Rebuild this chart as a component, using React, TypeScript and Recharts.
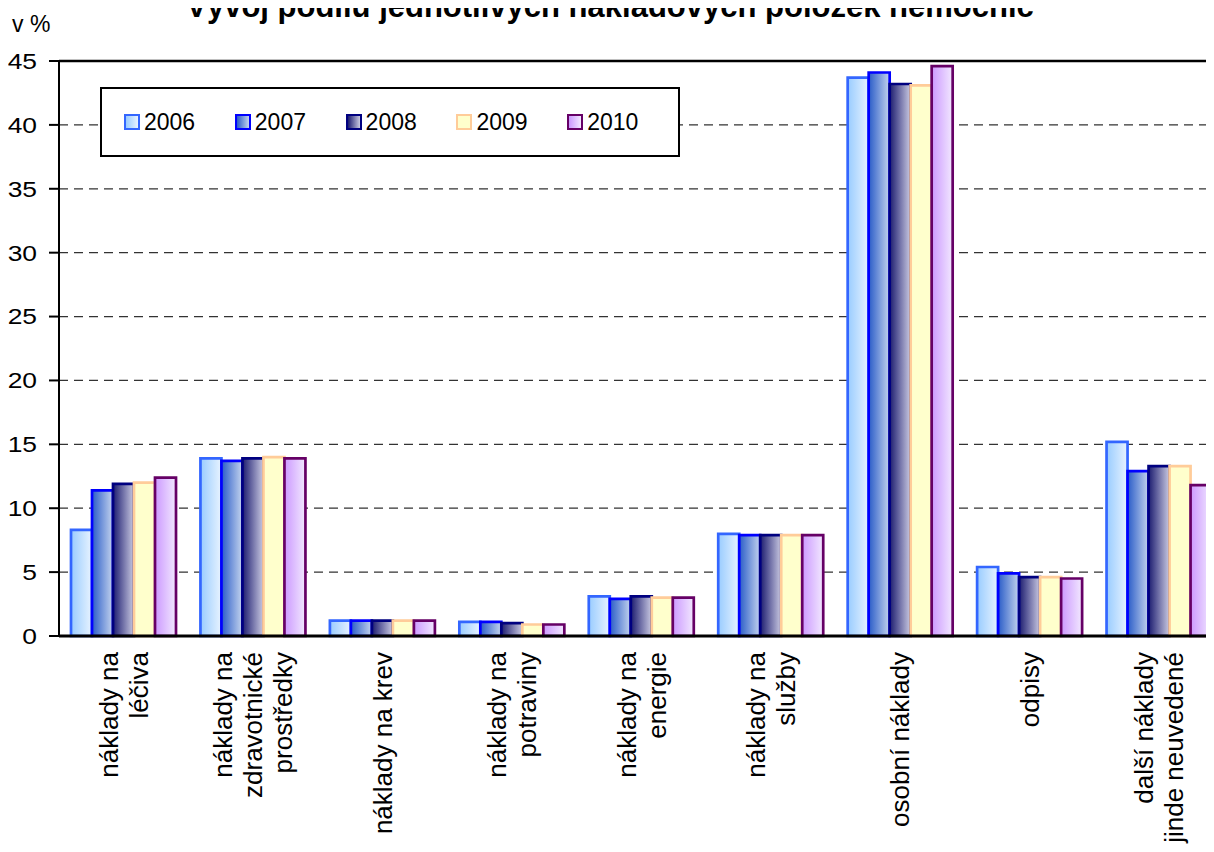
import React from 'react';
import { BarChart, Bar, XAxis, YAxis, CartesianGrid, ReferenceLine } from 'recharts';

const categories = [
  'náklady na\nléčiva',
  'náklady na\nzdravotnické\nprostředky',
  'náklady na krev',
  'náklady na\npotraviny',
  'náklady na\nenergie',
  'náklady na\nslužby',
  'osobní náklady',
  'odpisy',
  'další náklady\njinde neuvedené',
];
const years = ['2006', '2007', '2008', '2009', '2010'];
const s2006 = [8.3, 13.9, 1.2, 1.1, 3.1, 8.0, 43.7, 5.4, 15.2];
const s2007 = [11.4, 13.7, 1.2, 1.1, 2.9, 7.9, 44.1, 4.9, 12.9];
const s2008 = [11.9, 13.9, 1.2, 1.0, 3.1, 7.9, 43.2, 4.6, 13.3];
const s2009 = [12.0, 14.0, 1.2, 0.9, 3.0, 7.9, 43.1, 4.6, 13.3];
const s2010 = [12.4, 13.9, 1.2, 0.9, 3.0, 7.9, 44.6, 4.5, 11.8];
const yTicks = [0, 5, 10, 15, 20, 25, 30, 35, 40, 45];

const seriesValues = [s2006, s2007, s2008, s2009, s2010];
const data = categories.map((c, i) => {
  const row: any = { name: c };
  years.forEach((y, k) => { row[y] = seriesValues[k][i]; });
  return row;
});

const styles = [
  { from: '#99ccff', to: '#e8f3ff', stroke: '#3366ff' },
  { from: '#2a5cc8', to: '#c4d4ee', stroke: '#0000ff' },
  { from: '#1c1c70', to: '#cacae2', stroke: '#000080' },
  { from: '#ffffcc', to: '#ffffcc', stroke: '#ffcc99' },
  { from: '#cc99ff', to: '#f2e8ff', stroke: '#660066' },
];

const FONT = '"Liberation Sans", Arial, sans-serif';

const XTick = (props: any) => {
  const { x, y, payload } = props;
  const lines = String(payload.value).split('\n');
  const fs = 26;
  const L = 30;
  const n = lines.length;
  return (
    <g transform={`translate(${x},${y + 8})`}>
      <text transform="rotate(-90)" textAnchor="end" fontSize={fs} fontFamily={FONT} fill="#000">
        {lines.map((l, i) => (
          <tspan key={i} x={0} y={(i - (n - 1) / 2) * L + fs * 0.35}>{l}</tspan>
        ))}
      </text>
    </g>
  );
};

const YTick = (props: any) => {
  const { x, y, payload } = props;
  return (
    <g transform={`translate(${x},${y}) scale(1.2,1)`}>
      <text x={0} y={0} dy="0.36em" textAnchor="end" fontSize={22} fontFamily={FONT} fill="#000">
        {payload.value}
      </text>
    </g>
  );
};

const LegendBox = () => (
  <div
    style={{
      position: 'absolute',
      left: 100,
      top: 87,
      boxSizing: 'border-box',
      width: 580,
      height: 70,
      border: '2px solid #000',
      background: '#fff',
      display: 'flex',
      alignItems: 'center',
      paddingLeft: 22,
      fontFamily: FONT,
      fontSize: 23,
      color: '#000',
    }}
  >
    {years.map((y, k) => (
      <div key={y} style={{ width: 115, display: 'flex', alignItems: 'center' }}>
        <span
          style={{
            display: 'inline-block',
            boxSizing: 'border-box',
            width: 16,
            height: 16,
            border: `2px solid ${styles[k].stroke}`,
            background: `linear-gradient(to right, ${styles[k].from}, ${styles[k].to})`,
            marginRight: 4,
          }}
        />
        <span>{y}</span>
      </div>
    ))}
  </div>
);

export default function App() {
  return (
    <div style={{ position: 'relative', width: 1214, height: 852, margin: -8, overflow: 'hidden', background: '#fff' }}>
      <BarChart
        width={1224}
        height={852}
        data={data}
        margin={{ top: 61, right: 0, bottom: 16, left: 0 }}
        barCategoryGap={12}
        barGap={0}
      >
        <defs>
          {styles.map((s, k) => (
            <linearGradient key={k} id={`g${k}`} x1="0" y1="0" x2="1" y2="0">
              <stop offset="0%" stopColor={s.from} />
              <stop offset="100%" stopColor={s.to} />
            </linearGradient>
          ))}
        </defs>
        <CartesianGrid vertical={false} stroke="#333" strokeDasharray="9 6" strokeWidth={1.3} />
        <XAxis
          dataKey="name"
          height={200}
          interval={0}
          tickLine={false}
          axisLine={{ stroke: '#000', strokeWidth: 3 }}
          tick={<XTick />}
        />
        <YAxis
          width={59}
          domain={[0, 45]}
          ticks={yTicks}
          interval={0}
          tickSize={10}
          tickMargin={12}
          tickLine={{ stroke: '#000', strokeWidth: 2 }}
          axisLine={{ stroke: '#000', strokeWidth: 2 }}
          tick={<YTick />}
        />
        <ReferenceLine y={45} stroke="#000" strokeWidth={2.5} />
        {years.map((y, k) => (
          <Bar
            key={y}
            dataKey={y}
            fill={`url(#g${k})`}
            stroke={styles[k].stroke}
            strokeWidth={2.7}
            isAnimationActive={false}
          />
        ))}
      </BarChart>
      <LegendBox />
      <svg width={1214} height={60} style={{ position: 'absolute', left: 0, top: 0, pointerEvents: 'none' }}>
        <text x={610} y={17} textAnchor="middle" fontFamily={FONT} fontWeight="bold" fontSize={31} fill="#000">
          Vývoj podílu jednotlivých nákladových položek nemocnic
        </text>
        <text x={12} y={32} fontFamily={FONT} fontSize={23} fill="#000">v %</text>
      </svg>
    </div>
  );
}
